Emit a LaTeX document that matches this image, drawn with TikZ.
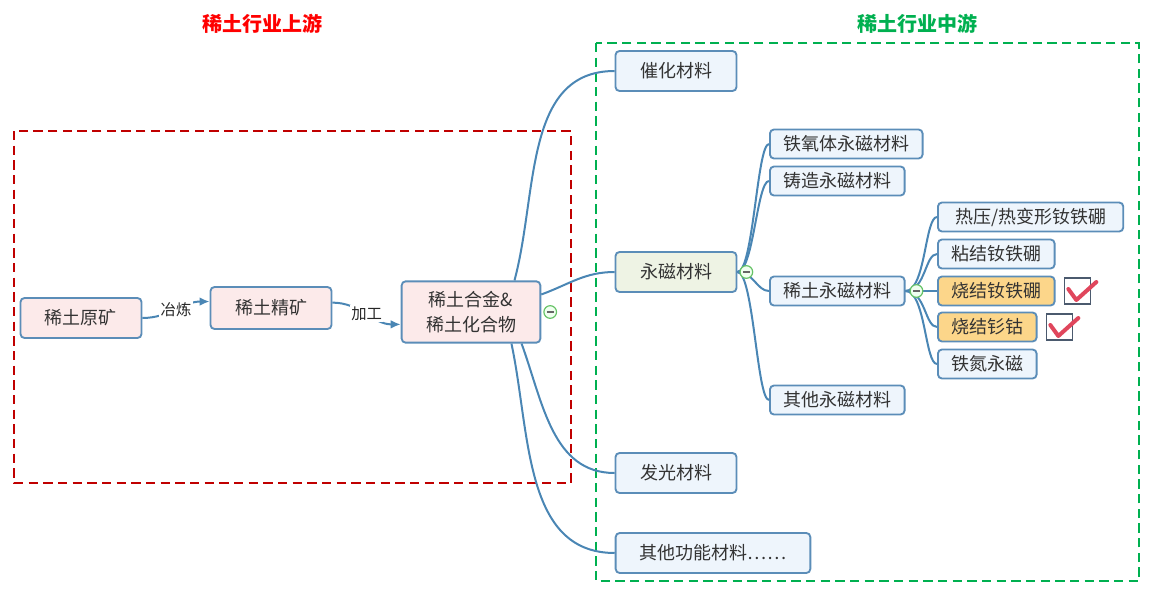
\documentclass[tikz,border=0pt]{standalone}
\usepackage{fontspec}
\setmainfont{Noto Sans CJK SC}
\usepackage{tikz}
\usetikzlibrary{arrows.meta, positioning}
\definecolor{myline}{HTML}{4A86B4}
\definecolor{myedge}{HTML}{5B8DB8}
\definecolor{myblue}{HTML}{EEF5FC}
\definecolor{mypink}{HTML}{FCEAEA}
\definecolor{mygreen}{HTML}{EEF3E4}
\definecolor{myorange}{HTML}{FCD68A}
\definecolor{myred}{HTML}{C00000}
\definecolor{mydash}{HTML}{00B050}
\definecolor{mytick}{HTML}{E0465C}
\definecolor{mybox}{HTML}{4B5A6E}

\begin{document}
\begin{tikzpicture}[x=0.75pt, y=0.75pt,
  topic/.style={rectangle, rounded corners=3pt, draw=myedge, line width=1.4pt, fill=myblue, text=black!80, font=\fontsize{13.5}{19}\selectfont, minimum height=30pt, minimum width=90.75pt, align=center},
  leaf/.style={topic, minimum height=21.75pt, minimum width=0pt, inner xsep=10pt},
  up/.style={topic, fill=mypink},
  pick/.style={leaf, fill=myorange},
  fold/.style={circle, draw=green!60!black!60, fill=green!6, line width=0.9pt, minimum size=9.5pt, inner sep=0pt, path picture={\draw[black!60, line width=0.8pt] ([xshift=-2.5pt]path picture bounding box.center) -- ([xshift=2.5pt]path picture bounding box.center);}},
  link/.style={draw=myline, line width=1.5pt},
  arr/.style={link, -{Latex[length=7.5pt, width=6.5pt]}},
  lbl/.style={fill=white, inner sep=1pt, text=black!85, font=\fontsize{11.5}{13}\selectfont},
  chk/.style={rectangle, draw=mybox, line width=1.2pt, fill=white, minimum size=19.5pt, inner sep=0pt},
  tick/.style={draw=mytick, line width=3pt, line cap=round, line join=round},
  zone/.style={line width=1.2pt, dash pattern=on 7pt off 4pt},
  title/.style={font=\fontsize{15}{18}\selectfont\bfseries},
]
\useasboundingbox (0,0) rectangle (1154,-603);

% zones
\node[title, text=red] (tup) at (262,-24) {稀土行业上游};
\node[title, text=mydash] (tmid) at (917,-24) {稀土行业中游};
\draw[zone, draw=myred] (14,-131) rectangle (571,-483);
\draw[zone, draw=mydash] (596,-43) rectangle (1139,-581);

% upstream
\node[up] (ore) at (81,-318) {稀土原矿};
\node[up, minimum height=31.5pt] (conc) at (271,-308) {稀土精矿};
\node[up, minimum width=104pt, minimum height=46pt] (alloy) at (471,-312) {稀土合金\&\\稀土化合物};

% midstream
\node[topic] (cat) at (676,-71) {催化材料};
\node[topic, fill=mygreen] (pm) at (676,-272) {永磁材料};
\node[topic] (lum) at (676,-473) {发光材料};
\node[topic, minimum width=146pt] (oth) at (713,-553) {其他功能材料……};

\node[leaf, anchor=west] (fer) at (769,-144) {铁氧体永磁材料};
\node[leaf, anchor=west] (cast) at (769,-181) {铸造永磁材料};
\node[leaf, anchor=west] (rem) at (769,-291) {稀土永磁材料};
\node[leaf, anchor=west] (opm) at (769,-400) {其他永磁材料};

\node[leaf, anchor=west, minimum width=139pt] (hot) at (937,-217) {热压/热变形钕铁硼};
\node[leaf, anchor=west] (bond) at (937,-254) {粘结钕铁硼};
\node[pick, anchor=west] (sint) at (937,-291) {烧结钕铁硼};
\node[pick, anchor=west] (smco) at (937,-327) {烧结钐钴};
\node[leaf, anchor=west] (fen) at (937,-364) {铁氮永磁};

\node[chk, right=6pt of sint] (ck1) {};
\node[chk, right=6pt of smco] (ck2) {};
\foreach \c in {ck1,ck2}
  \draw[tick] ([shift={(-6.75pt,1.5pt)}]\c.center) -- ++(6pt,-8.25pt) -- ++(15pt,13.5pt);

% connectors
\draw[arr] (ore.east) to[out=0,in=180] node[lbl] {冶炼} (conc.174);
\draw[arr] (conc.5) to[out=0,in=180] node[lbl] {加工} (alloy.190);

\draw[link] (alloy.36) to[out=75,in=180] (cat.west);
\draw[link] (alloy.14) to[out=20,in=180] (pm.west);
\draw[link] (alloy.-32) to[out=-70,in=180] (lum.west);
\draw[link] (alloy.-38) to[out=-78,in=180] (oth.west);

\foreach \n in {fer,cast,rem,opm}
  \draw[link] (pm.east) .. controls +(16,0) and +(-12,0) .. (\n.west);
\foreach \n in {hot,bond,sint,smco,fen}
  \draw[link] (rem.east) .. controls +(20,0) and +(-12,0) .. (\n.west);

\node[fold, right=1.5pt of alloy] (fa) {};
\node[fold, right=1.5pt of pm] (fp) {};
\node[fold, right=3pt of rem] (fr) {};
\end{tikzpicture}
\end{document}
